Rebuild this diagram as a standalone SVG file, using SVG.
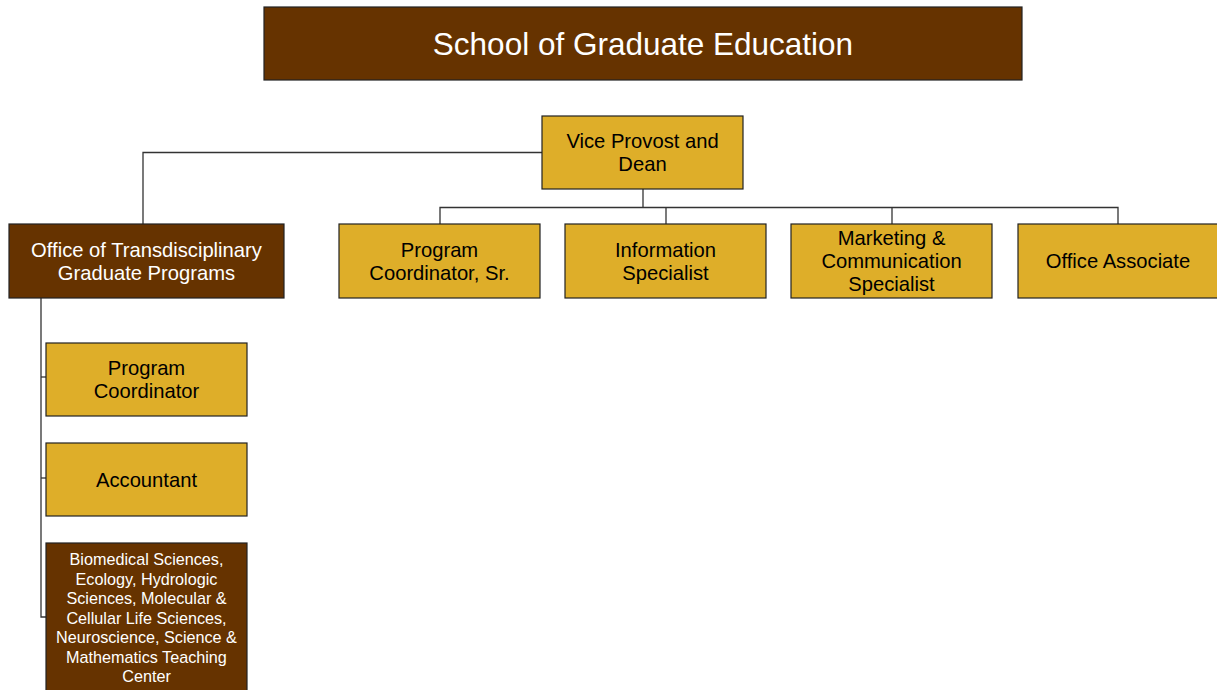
<svg xmlns="http://www.w3.org/2000/svg" width="1217" height="690" viewBox="0 0 1217 690">
<style>
.box{stroke:#222;stroke-width:1.2}
.g{fill:#DEAE29}
.b{fill:#663300}
text{font-family:"Liberation Sans",Arial,sans-serif;text-anchor:middle}
.dk{fill:#000;font-size:20.2px}
.lt{fill:#fff;font-size:20.2px}
.sm{fill:#fff;font-size:16.2px}
.conn{stroke:#333;stroke-width:1.3;fill:none}
</style>
<rect width="1217" height="690" fill="#fff"/>
<g id="connectors">
<polyline class="conn" points="542,152.5 143,152.5 143,224"/>
<line class="conn" x1="643" y1="189" x2="643" y2="207.5"/>
<polyline class="conn" points="440,224 440,207.5 1118,207.5 1118,224"/>
<line class="conn" x1="666" y1="207.5" x2="666" y2="224"/>
<line class="conn" x1="892" y1="207.5" x2="892" y2="224"/>
<polyline class="conn" points="41,298 41,617 46,617"/>
<line class="conn" x1="41" y1="377" x2="46" y2="377"/>
<line class="conn" x1="41" y1="478" x2="46" y2="478"/>
</g>
<g id="title"><rect class="box b" x="264" y="7" width="758" height="73"/><text x="643" y="55" fill="#fff" font-size="31.5">School of Graduate Education</text></g>
<g id="vp"><rect class="box g" x="542" y="116" width="201" height="73"/><text class="dk" x="642.5" y="148">Vice Provost and</text><text class="dk" x="642.5" y="171">Dean</text></g>
<g id="otgp"><rect class="box b" x="9" y="224" width="275" height="74"/><text class="lt" x="146.5" y="257">Office of Transdisciplinary</text><text class="lt" x="146.5" y="280">Graduate Programs</text></g>
<g id="pcsr"><rect class="box g" x="339" y="224" width="201" height="74"/><text class="dk" x="439.5" y="257">Program</text><text class="dk" x="439.5" y="280">Coordinator, Sr.</text></g>
<g id="info"><rect class="box g" x="565" y="224" width="201" height="74"/><text class="dk" x="665.5" y="257">Information</text><text class="dk" x="665.5" y="280">Specialist</text></g>
<g id="mcs"><rect class="box g" x="791" y="224" width="201" height="74"/><text class="dk" x="891.5" y="245">Marketing &amp;</text><text class="dk" x="891.5" y="268">Communication</text><text class="dk" x="891.5" y="291">Specialist</text></g>
<g id="oa"><rect class="box g" x="1018" y="224" width="201" height="74"/><text class="dk" x="1118" y="268">Office Associate</text></g>
<g id="pc"><rect class="box g" x="46" y="343" width="201" height="73"/><text class="dk" x="146.5" y="375">Program</text><text class="dk" x="146.5" y="398">Coordinator</text></g>
<g id="acct"><rect class="box g" x="46" y="443" width="201" height="73"/><text class="dk" x="146.5" y="487">Accountant</text></g>
<g id="bio"><rect class="box b" x="46" y="543" width="201" height="150"/>
<text class="sm" x="146.5" y="565">Biomedical Sciences,</text>
<text class="sm" x="146.5" y="584.5">Ecology, Hydrologic</text>
<text class="sm" x="146.5" y="604">Sciences, Molecular &amp;</text>
<text class="sm" x="146.5" y="623.5">Cellular Life Sciences,</text>
<text class="sm" x="146.5" y="643">Neuroscience, Science &amp;</text>
<text class="sm" x="146.5" y="662.5">Mathematics Teaching</text>
<text class="sm" x="146.5" y="682">Center</text></g>
</svg>
